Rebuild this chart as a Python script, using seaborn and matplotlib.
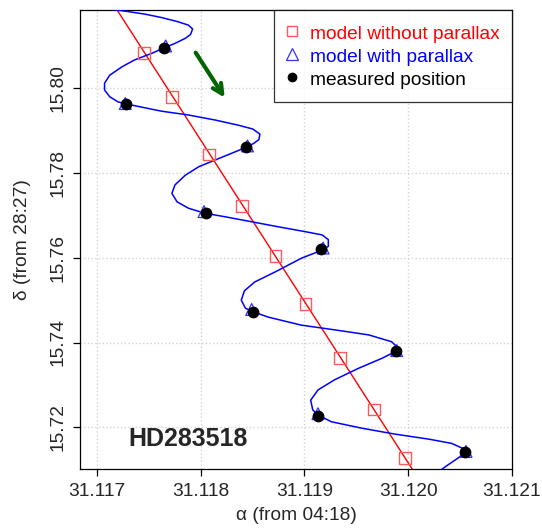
import matplotlib
matplotlib.use("Agg")
import matplotlib.pyplot as plt
from matplotlib.lines import Line2D
import seaborn as sns

## model track with parallax
curve_ra = [31.11706, 31.11718, 31.11730, 31.11746, 31.11762, 31.11778, 31.11788, 31.11792,
            31.11790, 31.11785, 31.11775, 31.11765, 31.11753, 31.11736, 31.11724, 31.11712,
            31.11707, 31.11707, 31.11712, 31.11720, 31.11728, 31.11740, 31.11762, 31.11788,
            31.11814, 31.11836, 31.11850, 31.11857, 31.11856, 31.11851, 31.11844, 31.11830,
            31.11814, 31.11798, 31.11785, 31.11775, 31.11772, 31.11777, 31.11788, 31.11804,
            31.11823, 31.11849, 31.11875, 31.11900, 31.11917, 31.11923, 31.11923, 31.11917,
            31.11897, 31.11872, 31.11852, 31.11842, 31.11839, 31.11843, 31.11850, 31.11865,
            31.11897, 31.11929, 31.11962, 31.11984, 31.11991, 31.11987, 31.11975, 31.11952,
            31.11929, 31.11913, 31.11906, 31.11908, 31.11913, 31.11926, 31.11955, 31.11987,
            31.12020, 31.12042, 31.12053, 31.12056, 31.12048, 31.12036, 31.12027]
curve_dec = [15.8190, 15.8185, 15.8181, 15.8175, 15.8167, 15.8157, 15.8149, 15.8140,
             15.8127, 15.8118, 15.8106, 15.8096, 15.8083, 15.8067, 15.8051, 15.8031,
             15.8012, 15.7996, 15.7980, 15.7968, 15.7963, 15.7957, 15.7946, 15.7937,
             15.7925, 15.7913, 15.7904, 15.7892, 15.7879, 15.7870, 15.7861, 15.7847,
             15.7831, 15.7815, 15.7795, 15.7772, 15.7752, 15.7732, 15.7717, 15.7705,
             15.7697, 15.7685, 15.7673, 15.7662, 15.7654, 15.7643, 15.7627, 15.7618,
             15.7599, 15.7567, 15.7543, 15.7522, 15.7500, 15.7481, 15.7473, 15.7460,
             15.7441, 15.7430, 15.7418, 15.7402, 15.7386, 15.7378, 15.7363, 15.7339,
             15.7312, 15.7288, 15.7264, 15.7241, 15.7229, 15.7213, 15.7198, 15.7184,
             15.7172, 15.7162, 15.7150, 15.7142, 15.7127, 15.7107, 15.7090]

## proper motion only (straight line)
line_ra = [31.11713, 31.12012]
line_dec = [15.8208, 15.7071]

## epochs: model without parallax
nopar_ra = [31.11745, 31.11772, 31.11808, 31.11840, 31.11872, 31.11901, 31.11934, 31.11967, 31.11997]
nopar_dec = [15.8084, 15.7980, 15.7844, 15.7723, 15.7604, 15.7491, 15.7364, 15.7242, 15.7127]

## epochs: model with parallax
par_ra = [31.11766, 31.11727, 31.11845, 31.11803, 31.11918, 31.11849, 31.11989, 31.11913, 31.12056]
par_dec = [15.8100, 15.7964, 15.7864, 15.7709, 15.7623, 15.7478, 15.7381, 15.7232, 15.7143]

## measured positions
meas_ra = [31.11764, 31.11728, 31.11844, 31.11805, 31.11916, 31.11850, 31.11988, 31.11913, 31.12055]
meas_dec = [15.8096, 15.7962, 15.7861, 15.7706, 15.7621, 15.7473, 15.7379, 15.7227, 15.7141]

## direction arrow
arrow_ra = [31.11795, 31.11823]
arrow_dec = [15.8084, 15.7978]

x_ticks = [31.117, 31.118, 31.119, 31.120, 31.121]
y_ticks = [15.72, 15.74, 15.76, 15.78, 15.80]

sns.set_style("white")
plt.rcParams["font.family"] = ["Liberation Sans", "DejaVu Sans"]
fs = 13.8

fig = plt.figure(figsize=(5.42, 5.29), dpi=100)
ax = fig.add_axes([0.1476, 0.1134, 0.797, 0.8677])

sns.lineplot(x=line_ra, y=line_dec, sort=False, estimator=None, color="red", lw=1.0, ax=ax, zorder=2)
sns.lineplot(x=curve_ra, y=curve_dec, sort=False, estimator=None, color="#0000ff", lw=1.1, ax=ax, zorder=3)
sns.scatterplot(x=nopar_ra, y=nopar_dec, marker="s", s=72, color="#ff5a5a", facecolor="none",
                edgecolor="#ff5a5a", linewidth=1.0, ax=ax, zorder=4)
sns.scatterplot(x=par_ra, y=par_dec, marker="^", s=72, color="#3030ff", facecolor="none",
                edgecolor="#3030ff", linewidth=0.9, ax=ax, zorder=5)
sns.scatterplot(x=meas_ra, y=meas_dec, marker="o", s=72, color="black", edgecolor="black",
                linewidth=0, ax=ax, zorder=6)

ax.annotate("", xy=(arrow_ra[1], arrow_dec[1]), xytext=(arrow_ra[0], arrow_dec[0]),
            arrowprops=dict(arrowstyle="->,head_length=0.7,head_width=0.35", color="#006400", lw=3,
                            shrinkA=0, shrinkB=0),
            zorder=7)

ax.text(0.25, 0.065, "HD283518", transform=ax.transAxes, fontsize=18, fontweight="bold",
        ha="center", va="center")

ax.set_xlim(31.116833, 31.121003)
ax.set_ylim(15.71015, 15.81848)
ax.set_xticks(x_ticks)
ax.set_xticklabels([f"{v:.3f}" for v in x_ticks])
ax.set_yticks(y_ticks)
ax.set_yticklabels([f"{v:.2f}" for v in y_ticks], rotation=90, va="center")
ax.tick_params(axis="both", direction="out", length=5, width=0.9, color="black",
               labelsize=fs, pad=5, bottom=True, left=True)
ax.grid(True, linestyle=":", color="lightgray", lw=1)
ax.set_axisbelow(True)
for sp in ax.spines.values():
    sp.set_color("black")
    sp.set_linewidth(0.9)

ax.set_xlabel("\u03b1 (from 04:18)", fontsize=fs, labelpad=5)
ax.set_ylabel("\u03b4 (from 28:27)", fontsize=fs, labelpad=13)

handles = [
    Line2D([], [], marker="s", ls="none", markersize=7, markerfacecolor="none",
           markeredgecolor="#ff5a5a", markeredgewidth=1.0),
    Line2D([], [], marker="^", ls="none", markersize=8, markerfacecolor="none",
           markeredgecolor="#3030ff", markeredgewidth=0.9),
    Line2D([], [], marker="o", ls="none", markersize=6, markerfacecolor="black",
           markeredgecolor="black"),
]
leg = ax.legend(handles, ["model without parallax", "model with parallax", "measured position"],
                loc="upper right", fontsize=fs, frameon=True, fancybox=False, borderaxespad=0,
                borderpad=0.65, handlelength=0.57, handleheight=1.2, handletextpad=0.65,
                labelspacing=0.15, labelcolor=["red", "blue", "black"])
leg.get_frame().set_edgecolor("black")
leg.get_frame().set_linewidth(0.9)

fig.savefig("out.png", dpi=100)
